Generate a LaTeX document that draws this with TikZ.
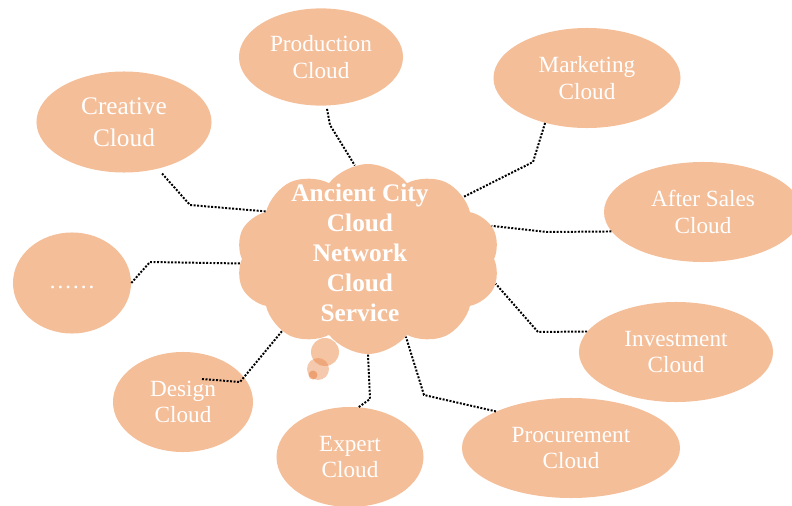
\documentclass[tikz,border=0pt]{standalone}
\usepackage{fontspec}
\setmainfont{Liberation Serif}
\usepackage{tikz}
\usetikzlibrary{shapes.geometric,shapes.symbols}
\definecolor{peach}{RGB}{244,190,153}
\definecolor{bubbledark}{RGB}{232,135,75}

\begin{document}
\begin{tikzpicture}[x=0.025cm,y=-0.025cm,
    cloudbox/.style={ellipse,fill=peach,text=white,inner sep=0pt,align=center,font=\fontsize{16.5}{19}\selectfont},
    hub/.style={cloud,cloud puffs=10,cloud puff arc=105,cloud ignores aspect,fill=peach,minimum width=6.6cm,minimum height=4.75cm},
    link/.style={line width=1.4pt,dash pattern=on 1.4pt off 1.1pt}]
    \useasboundingbox (0,0) rectangle (792,506);
    \node[hub,shape border rotate=8] (hub) at (368,259) {};
    \fill[peach,opacity=.9] (325,352) circle[radius=14];
    \fill[bubbledark,opacity=.45] (318,369) circle[radius=11];
    \fill[bubbledark,opacity=.6] (313,375) circle[radius=4.5];
    \node[text=white,align=center,font=\bfseries\fontsize{18}{21.3}\selectfont] (hubtext) at (360,253) {Ancient City\\Cloud\\Network\\Cloud\\Service};

    \node[cloudbox,minimum width=4.1cm,minimum height=2.43cm] (production) at (321,57) {Production\\Cloud};
    \node[cloudbox,minimum width=4.375cm,minimum height=2.525cm,font=\fontsize{18}{22.7}\selectfont] (creative) at (124,122) {Creative\\Cloud};
    \node[cloudbox,minimum width=4.675cm,minimum height=2.5cm] (marketing) at (587,78) {Marketing\\Cloud};
    \node[cloudbox,minimum width=4.95cm,minimum height=2.5cm] (aftersales) at (703,212) {After Sales\\Cloud};
    \node[cloudbox,minimum width=2.95cm,minimum height=2.525cm] (more) at (72,283) {……\strut};
    \node[cloudbox,minimum width=3.5cm,minimum height=2.5cm] (design) at (183,402) {Design\\Cloud};
    \node[cloudbox,minimum width=3.675cm,minimum height=2.5cm] (expert) at (350,457) {Expert\\Cloud};
    \node[cloudbox,minimum width=4.85cm,minimum height=2.5cm] (investment) at (676,352) {Investment\\Cloud};
    \node[cloudbox,minimum width=5.45cm,minimum height=2.5cm] (procurement) at (571,448) {Procurement\\Cloud};

    \draw[link] ([shift={(6,3)}]production.south) -- (330,125) -- (hub.98);
    \draw[link] ([shift={(3,5)}]creative.-53) -- (190,205) -- (hub.155);
    \draw[link] (marketing.-133) -- (533,162) -- (hub.33);
    \draw[link] (aftersales.192) -- (547,232) -- (hub.15);
    \draw[link] (more.east) -- (150,262) -- (hub.182);
    \draw[link] ([shift={(19,-23)}]design.center) -- (240,382) -- (hub.220);
    \draw[link] (expert.80) -- (370,399) -- (hub.270);
    \draw[link] (investment.167) -- (538,332) -- (hub.-11);
    \draw[link] (procurement.154) -- (424,395) -- (hub.-64);
\end{tikzpicture}
\end{document}
